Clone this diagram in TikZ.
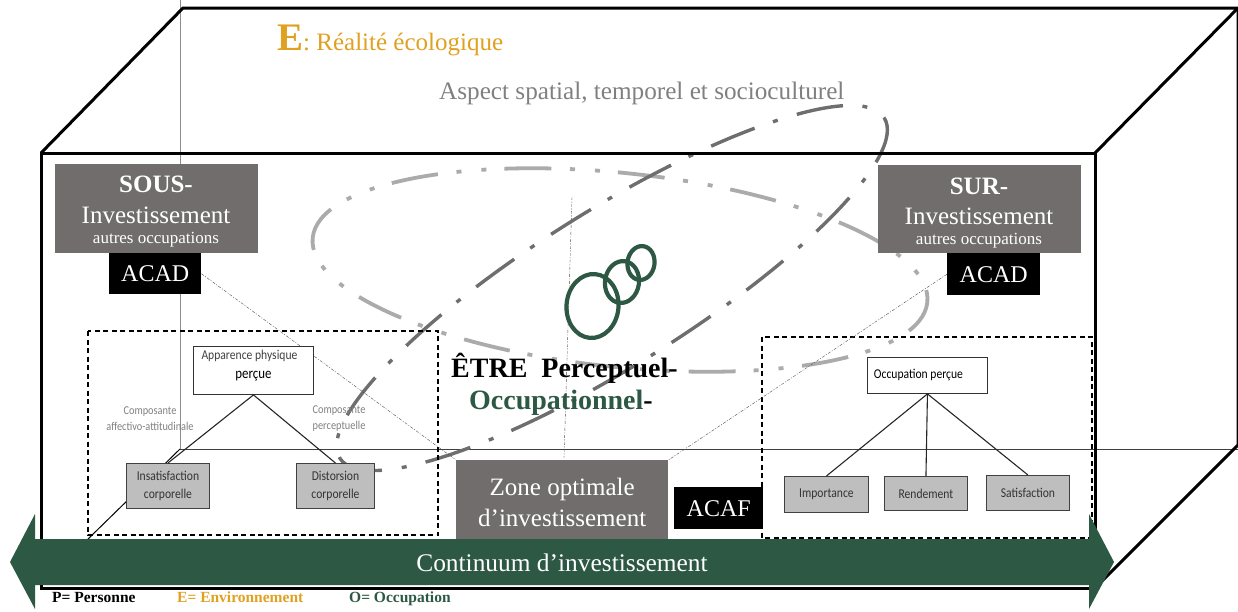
\documentclass[tikz,border=0pt]{standalone}
\usepackage{fontspec}
\setmainfont{Liberation Serif}
\newfontfamily\narrowf[FakeStretch=0.86]{Carlito}
\definecolor{boxgray}{HTML}{716D6D}
\definecolor{lightgray2}{HTML}{BEBEBE}
\definecolor{deepgreen}{HTML}{2C5844}
\definecolor{amber}{HTML}{E0A020}
\definecolor{ringlight}{HTML}{ABABAB}
\definecolor{ringdark}{HTML}{6E6E6E}
\tikzset{
  heavy/.style={draw=black,line width=3pt,line join=miter},
  thinline/.style={draw=black!75,line width=0.9pt},
  hairline/.style={draw=black!70,line width=0.4pt,dash pattern=on 3pt off 1.5pt on 1pt off 1.5pt},
  dashbox/.style={draw=black,line width=1.1pt,dash pattern=on 5pt off 3.5pt},
  tag/.style={rectangle,inner sep=0pt,anchor=north west,text=white,align=center},
  graytag/.style={tag,fill=boxgray},
  blacktag/.style={tag,fill=black,font=\fontsize{24}{26}\selectfont},
  whitebox/.style={rectangle,inner sep=0pt,anchor=north west,fill=white,draw=black!80,line width=0.9pt,align=center,text=black!75,font=\narrowf\fontsize{13.5}{18}\selectfont},
  graybox/.style={whitebox,fill=lightgray2,draw=black!75,text=black!80},
  link/.style={draw=black!85,line width=1.1pt},
  complabel/.style={inner sep=0pt,align=center,text=black!50,font=\narrowf\fontsize{12}{16}\selectfont},
  legend/.style={inner sep=0pt,anchor=base west,font=\bfseries\fontsize{15.5}{16}\selectfont},
  ringL/.style={draw=ringlight,line width=3.8pt,dash pattern=on 47pt off 18pt on 5pt off 20pt on 5pt off 18.67pt},
  ringD/.style={draw=ringdark,line width=3.4pt,dash pattern=on 47pt off 20pt on 5pt off 19.47pt},
  occ/.style={draw=deepgreen,line width=4.2pt}
}
\begin{document}
\begin{tikzpicture}[x=1pt,y=-1pt]
\useasboundingbox (0,0) rectangle (1238,611);
% box corners
\coordinate (fTL) at (41,153);
\coordinate (fTR) at (1095,153);
\coordinate (fBR) at (1095,588);
\coordinate (fBL) at (41,588);
\coordinate (bTL) at (183,8);
\coordinate (bTR) at (1238,8);
\coordinate (bBR) at (1238,445);
\coordinate (bBL) at (180,449);
\coordinate (bBRh) at (1238,449);
\coordinate (bTop) at (180,0);
\coordinate (diagEnd) at (87,540);
\coordinate (midA) at (572,197);
\coordinate (midB) at (564,458);
% thin hidden edges
\draw[draw=black!45,line width=0.5pt] (bTop) -- (bBL);
\draw[thinline] (bBL) -- (bBRh);
\draw[draw=black,line width=1pt] (bBL) -- (diagEnd);
\draw[hairline] (midA) -- (midB);
% rings
\draw[ringL,shift={(620,270)},rotate=-6,dash phase=34.67pt] (0,0) ellipse [x radius=309pt,y radius=97pt];
\draw[ringD,shift={(612,288)},rotate=32,dash phase=46.47pt] (0,0) ellipse [x radius=321pt,y radius=78pt];
% box front and back
\draw[heavy] (fTL) -- (fTR) -- (fBR) -- (fBL) -- cycle;
\draw[heavy] (fTL) -- (bTL) -- (bTR) -- (fTR);
\draw[heavy] (bTR) -- (bBR) -- (fBR);
% dashed frames
\draw[dashbox] (88,331) rectangle (438,535);
\draw[dashbox] (762,337) rectangle (1092,538);
% investissement tags
\node[graytag,minimum width=203pt,minimum height=89pt] (sous) at (55,164) {};
\node[graytag,minimum width=203pt,minimum height=88pt] (sur) at (878,165) {};
\node[text=white,font=\bfseries\fontsize{25}{26}\selectfont,inner sep=0pt] (sousA) at (156,184) {SOUS-};
\node[text=white,font=\fontsize{25}{26}\selectfont,inner sep=0pt] (sousB) at (156,215) {Investissement};
\node[text=white,font=\fontsize{17}{18}\selectfont,inner sep=0pt] (sousC) at (156,240) {autres occupations};
\node[text=white,font=\bfseries\fontsize{25}{26}\selectfont,inner sep=0pt] (surA) at (979,186) {SUR-};
\node[text=white,font=\fontsize{25}{26}\selectfont,inner sep=0pt] (surB) at (979,216) {Investissement};
\node[text=white,font=\fontsize{17}{18}\selectfont,inner sep=0pt] (surC) at (979,241) {autres occupations};
\node[blacktag,minimum width=92pt,minimum height=41pt] (acadL) at (109,253) {ACAD};
\node[blacktag,minimum width=93pt,minimum height=42pt] (acadR) at (947,253) {ACAD};
\node[graytag,minimum width=212pt,minimum height=84pt,font=\fontsize{25}{31}\selectfont] (zone) at (456,460) {Zone optimale\\d’investissement};
\node[blacktag,minimum width=89pt,minimum height=42pt] (acaf) at (674,487) {ACAF};
% hairline links
\draw[hairline] (acadL.east) -- (zone.north west);
\draw[hairline] (acadR.west) -- (zone.north east);
% left tree
\node[whitebox,minimum width=120pt,minimum height=48pt] (app) at (193,346) {\raisebox{0pt}[0pt][0pt]{\hspace{-8pt}Apparence physique}\\[1pt]\textcolor{black}{\fontsize{15}{18}\selectfont perçue}};
\node[graybox,minimum width=83pt,minimum height=45pt] (ins) at (126,463) {Insatisfaction\\corporelle};
\node[graybox,minimum width=78pt,minimum height=45pt] (dis) at (296,463) {Distorsion\\corporelle};
\draw[link] (app.south) -- (ins.north);
\draw[link] (app.south) -- (dis.north);
\node[complabel] (cL) at (150,419) {Composante\\affectivo-attitudinale};
\node[complabel] (cR) at (339,419) {Composante\\perceptuelle};
% right tree
\node[whitebox,minimum width=120pt,minimum height=36pt,text=black] (occp) at (867,357) {Occupation perçue\hspace{18pt}};
\node[graybox,minimum width=84pt,minimum height=36pt] (imp) at (784,476) {Importance};
\node[graybox,minimum width=83pt,minimum height=34pt] (ren) at (884,476) {Rendement};
\node[graybox,minimum width=83pt,minimum height=35pt] (sat) at (986,475) {Satisfaction};
\draw[link] (occp.south) -- (imp.north);
\draw[link] (occp.south) -- (ren.north);
\draw[link] (occp.south) -- (sat.north);
% occupation rings
\draw[occ,rotate around={-5:(592.5,306)}] (592.5,306) ellipse [x radius=26pt,y radius=32pt];
\draw[occ,rotate around={-8:(622,282)}] (622,282) ellipse [x radius=17pt,y radius=21pt];
\draw[occ,rotate around={-8:(641,263)}] (641,263) ellipse [x radius=13.5pt,y radius=17pt];
% central title
\node[inner sep=0pt,font=\bfseries\fontsize{28}{30}\selectfont,anchor=west] (etre) at (451,368) {ÊTRE\hspace{7pt} Perceptuel-};
\node[inner sep=0pt,font=\bfseries\fontsize{28}{30}\selectfont,anchor=west] (occu) at (469,403) {\textcolor{deepgreen}{Occupationnel}-};
% top texts
\node[inner sep=0pt,anchor=base west,text=amber,font=\fontsize{25}{26}\selectfont] (real) at (277,50) {{\bfseries\fontsize{39}{40}\selectfont E}: Réalité écologique};
\node[inner sep=0pt,anchor=base west,text=black!50,font=\fontsize{25.2}{26}\selectfont] (asp) at (439,99) {Aspect spatial, temporel et socioculturel};
% continuum arrow
\fill[deepgreen] (10,562) -- (35,514) -- (35,539) -- (1089,539) -- (1089,514) -- (1114,562) -- (1089,609) -- (1089,585) -- (35,585) -- (35,609) -- cycle;
\node[text=white,inner sep=0pt,font=\fontsize{25.4}{26}\selectfont] (cont) at (562,563) {Continuum d’investissement};
% legend
\node[legend,text=black] (lp) at (52,602) {P= Personne};
\node[legend,text=amber] (le) at (177,602) {E= Environnement};
\node[legend,text=deepgreen] (lo) at (349,602) {O= Occupation};
\end{tikzpicture}
\end{document}
